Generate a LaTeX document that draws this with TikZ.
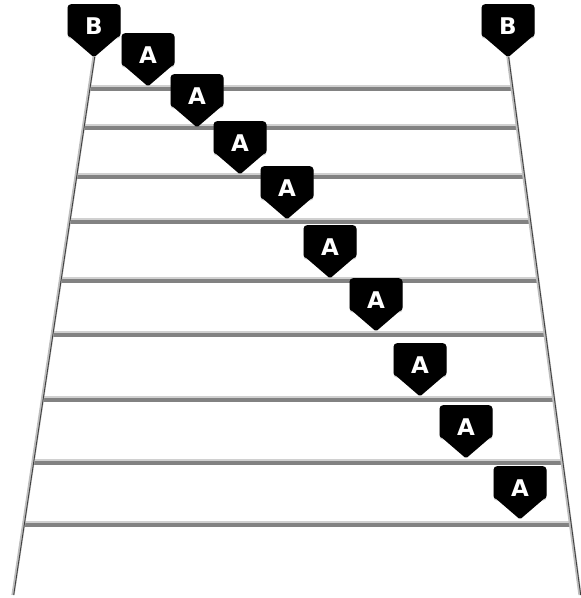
\documentclass[tikz,border=0pt]{standalone}
\usepackage{fontspec}
\newfontfamily\pinfont{DejaVu Sans}
\usetikzlibrary{calc,shadows}
\definecolor{rungdark}{RGB}{130,130,130}
\definecolor{runglight}{RGB}{208,208,208}
\definecolor{railgray}{RGB}{190,190,190}

\begin{document}
\begin{tikzpicture}[
  x=1pt, y=-1pt,
  pin/.style={rectangle, fill=black, rounded corners=3.5pt, minimum width=53pt, minimum height=33pt,
    inner sep=0pt, anchor=north, text height=27pt, text depth=0pt,
    text=white, font=\pinfont\bfseries\fontsize{23}{23}\selectfont,
    drop shadow={fill=black!40, opacity=.45, shadow xshift=0pt, shadow yshift=-1.5pt}},
  pinpoint/.style={fill=black, rounded corners=1.5pt},
  rung/.style={line width=6.5pt, rungdark},
  rungtop/.style={line width=2.5pt, runglight},
  rail/.style={line width=3.2pt, railgray},
  railcore/.style={line width=0.9pt, black!75}
]
\useasboundingbox (0,0) rectangle (581,598);
\coordinate (tL) at (94,57);
\coordinate (tR) at (508,57);
\coordinate (lb) at (13,595);
\coordinate (rb) at (580,595);
% rungs
\foreach \y [count=\i] in {88,127,176,221,280,334,399,462,524}{
  \coordinate (l\i) at ($(tL)!{(\y-57)/538}!(lb)$);
  \coordinate (r\i) at ($(tR)!{(\y-57)/538}!(rb)$);
  \draw[rung] (l\i) -- (r\i);
  \draw[rungtop] ([yshift=1.8pt]l\i) -- ([yshift=1.8pt]r\i);
}
% rails
\foreach \t/\b in {tL/lb,tR/rb}{
  \draw[rail] (\t) -- (\b);
  \draw[railcore] ([xshift=0.7pt]\t) -- ([xshift=0.7pt]\b);
}
% pins, placed by their tips
\foreach \n/\x/\y/\t in {bL/94/57/B,bR/508/57/B,a1/148/86/A,a2/197/127/A,a3/240/174/A,a4/287/219/A,
    a5/330/278/A,a6/376/331/A,a7/420/396/A,a8/466/458/A,a9/520/519/A}{
  \node[pin] (\n) at (\x,{\y-53}) {\t};
  \fill[pinpoint] ([yshift=3pt]\n.south west) -- ([yshift=3pt]\n.south east) -- ([yshift=-20pt]\n.south) -- cycle;
}
\end{tikzpicture}
\end{document}
